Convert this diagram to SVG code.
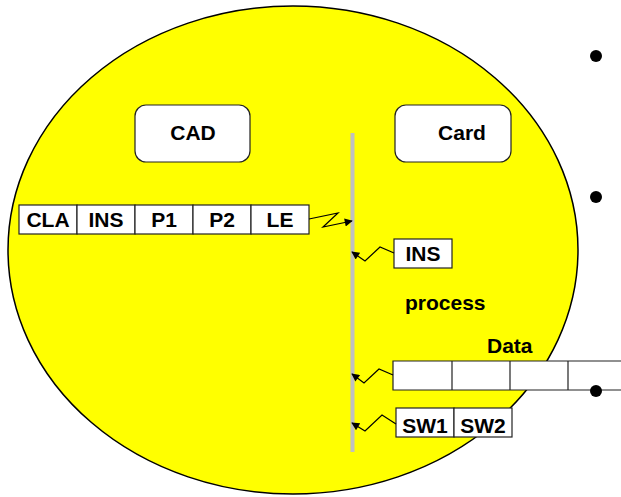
<svg xmlns="http://www.w3.org/2000/svg" width="621" height="497" viewBox="0 0 621 497">
<style>
text{font-family:"Liberation Sans",Arial,sans-serif;font-weight:bold;font-size:21px;fill:#000}
.c{text-anchor:middle}
.cell{fill:#fff;stroke:#222;stroke-width:1.2}
.rnd{fill:#fff;stroke:#222;stroke-width:1.2}
.z{fill:none;stroke:#000;stroke-width:1.2;marker-end:url(#ah)}
</style>
<defs>
<marker id="ah" viewBox="0 0 10 10" refX="9" refY="5" markerWidth="11" markerHeight="8" markerUnits="userSpaceOnUse" orient="auto">
<path d="M0,0 L10,5 L0,10 z" fill="#000"/>
</marker>
</defs>
<rect width="621" height="497" fill="#fff"/>
<g id="background">
<ellipse cx="293" cy="250" rx="285" ry="244" fill="#ffff00" stroke="#000" stroke-width="1.5"/>
<rect x="350.5" y="133" width="4" height="319" fill="#c0c0c0"/>
</g>
<g id="cad"><rect class="rnd" x="135" y="105" width="115" height="57" rx="11"/><text class="c" x="193" y="140">CAD</text></g>
<g id="card"><rect class="rnd" x="395" y="105" width="116" height="57" rx="11"/><text class="c" x="462" y="140">Card</text></g>
<g id="command">
<rect class="cell" x="19" y="205" width="58" height="29"/>
<rect class="cell" x="77" y="205" width="58" height="29"/>
<rect class="cell" x="135" y="205" width="58" height="29"/>
<rect class="cell" x="193" y="205" width="58" height="29"/>
<rect class="cell" x="251" y="205" width="58" height="29"/>
<text class="c" x="48" y="227">CLA</text>
<text class="c" x="106" y="227">INS</text>
<text class="c" x="164" y="227">P1</text>
<text class="c" x="222" y="227">P2</text>
<text class="c" x="280" y="227">LE</text>
</g>
<g id="ins"><rect class="cell" x="394" y="239" width="58" height="29"/><text class="c" x="423" y="261">INS</text></g>
<g id="process"><text x="405" y="310">process</text></g>
<g id="data">
<text x="487" y="353">Data</text>
<rect x="393" y="361" width="228" height="29" fill="#fff"/>
<path d="M621,361 H393 V390 H621 M452,361 V390 M510,361 V390 M568,361 V390" fill="none" stroke="#222" stroke-width="1.2"/>
</g>
<g id="sw">
<rect class="cell" x="396" y="408" width="58" height="29"/>
<rect class="cell" x="454" y="408" width="58" height="29"/>
<text class="c" x="425" y="433">SW1</text>
<text class="c" x="483" y="433">SW2</text>
</g>
<g id="bullets" fill="#000">
<circle cx="596" cy="56" r="6"/>
<circle cx="596" cy="197" r="6"/>
<circle cx="596" cy="391" r="6"/>
</g>
<g id="connectors">
<polyline class="z" points="309,219 338,213 323,227 352,221"/>
<polyline class="z" points="394,253 380,247 365,261 352,252"/>
<polyline class="z" points="393,375 379,369 364,383 352,374"/>
<polyline class="z" points="396,424 382,415 365,431 352,423"/>
</g>
</svg>
